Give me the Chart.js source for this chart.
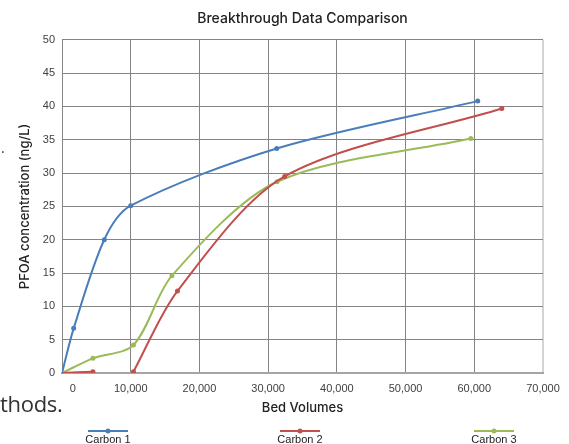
<!DOCTYPE html>
<html>
<head>
<meta charset="utf-8">
<script src="https://cdn.jsdelivr.net/npm/chart.js@4/dist/chart.umd.min.js"></script>
<style>
    body { margin: 0; background: #fff; }
    #wrap { position: relative; width: 569px; height: 444px; }
    .stray { position: absolute; font-family: 'Open Sans', sans-serif; color: #333; white-space: nowrap; }
</style>
</head>
<body>
<div id="wrap">
    <canvas id="breakthroughChart"></canvas>
    <!-- bits of the surrounding page that show in the crop -->
    <div class="stray" style="left:1px; top:138px; font-size:14px;">.</div>
    <div class="stray" style="left:0px; top:388px; font-size:22px; line-height:30px; letter-spacing:-0.3px;">thods.</div>
</div>
<script>
// Bed volumes (x) and PFOA concentration (y) for each carbon
const carbon1X = [0, 1700, 6150, 10000, 31250, 60500];
const carbon1Y = [0, 6.7, 20.0, 25.1, 33.7, 40.8];

// null = break in the line between the two early samples
const carbon2X = [0, 4500, 7400, 10400, 16800, 32400, 64000];
const carbon2Y = [0, 0.2, null, 0.2, 12.3, 29.5, 39.7];

const carbon3X = [0, 4500, 10400, 16000, 31300, 59500];
const carbon3Y = [0, 2.2, 4.2, 14.6, 28.7, 35.2];

const seriesNames = ['Carbon 1', 'Carbon 2', 'Carbon 3'];
const seriesColors = ['#4A7EBB', '#C0504D', '#9BBB59'];

// Axis ranges / tick steps
const xMin = 0, xMax = 70000, xStep = 10000;
const yMin = 0, yMax = 50, yStep = 5;

function toPoints(xs, ys) {
    return xs.map((x, i) => ({ x: x, y: ys[i] }));
}

// Legend under the chart: short line with marker, label below it
const bottomLegend = {
    id: 'bottomLegend',
    afterDraw(chart, args, opts) {
        const ctx = chart.ctx;
        chart.data.datasets.forEach((ds, i) => {
            const cx = opts.centers[i];
            ctx.save();
            ctx.strokeStyle = ds.borderColor;
            ctx.lineWidth = 2;
            ctx.beginPath();
            ctx.moveTo(cx - 20, opts.lineY);
            ctx.lineTo(cx + 20, opts.lineY);
            ctx.stroke();
            ctx.fillStyle = ds.borderColor;
            ctx.beginPath();
            ctx.arc(cx, opts.lineY, 2.5, 0, Math.PI * 2);
            ctx.fill();
            ctx.fillStyle = '#222';
            ctx.font = '11px "Liberation Sans", Arial, sans-serif';
            ctx.textAlign = 'center';
            ctx.textBaseline = 'middle';
            ctx.fillText(ds.label, cx, opts.textY);
            ctx.restore();
        });
    }
};

const datasets = [
    toPoints(carbon1X, carbon1Y),
    toPoints(carbon2X, carbon2Y),
    toPoints(carbon3X, carbon3Y)
].map((pts, i) => ({
    label: seriesNames[i],
    data: pts,
    borderColor: seriesColors[i],
    backgroundColor: seriesColors[i],
    borderWidth: 2,
    tension: 0.3,
    fill: false,
    spanGaps: false,
    // markers at the origin are hidden under the axes
    pointRadius: (c) => (c.raw && c.raw.x === 0 ? 0 : 2.5),
    pointBorderWidth: 0
}));

const tickFont = { family: '"Liberation Sans", Arial, sans-serif', size: 11 };
const titleFont = { family: 'Inter', size: 13, weight: '500' };

new Chart(document.getElementById('breakthroughChart'), {
    type: 'line',
    data: { datasets: datasets },
    options: {
        responsive: true,
        maintainAspectRatio: false,
        animation: false,
        layout: { padding: { top: 0, left: 0, right: 26, bottom: 26 } },
        plugins: {
            legend: { display: false },
            tooltip: { enabled: false },
            title: {
                display: true,
                text: 'Breakthrough Data Comparison',
                fullSize: false,
                color: '#222',
                font: { family: 'Inter', size: 14, weight: '500' },
                padding: { top: 10, bottom: 13 }
            },
            bottomLegend: { centers: [108, 300, 494], lineY: 431, textY: 440 }
        },
        scales: {
            x: {
                type: 'linear',
                min: xMin,
                max: xMax,
                afterFit: (s) => { s.height = 45; s.paddingLeft = 0; s.paddingRight = 0; },
                border: { color: '#a6a6a6', width: 2 },
                grid: {
                    drawTicks: false,
                    color: (c) => (c.tick && c.tick.value === xMax ? '#d4d4d4' : '#858585'),
                    lineWidth: (c) => (c.tick && c.tick.value === xMax ? 2 : 1)
                },
                ticks: {
                    stepSize: xStep,
                    padding: 9,
                    maxRotation: 0,
                    color: '#404040',
                    font: tickFont,
                    // "0" sits a little right of the axis in the original
                    callback: (v) => (v === 0 ? '       0' : v.toLocaleString('en-US'))
                },
                title: {
                    display: true,
                    text: 'Bed Volumes',
                    color: '#222',
                    font: titleFont,
                    padding: { top: 0, bottom: 2 }
                }
            },
            y: {
                min: yMin,
                max: yMax,
                afterFit: (s) => { s.width = 62; s.paddingTop = 0; s.paddingBottom = 0; },
                border: { color: '#858585', width: 1 },
                grid: { drawTicks: false, color: '#858585', lineWidth: 1 },
                ticks: {
                    stepSize: yStep,
                    padding: 7,
                    color: '#404040',
                    font: tickFont
                },
                title: {
                    display: true,
                    text: 'PFOA concentration (ng/L)',
                    color: '#222',
                    font: titleFont,
                    padding: { top: 17, bottom: 0 }
                }
            }
        }
    },
    plugins: [bottomLegend]
});
</script>
</body>
</html>
